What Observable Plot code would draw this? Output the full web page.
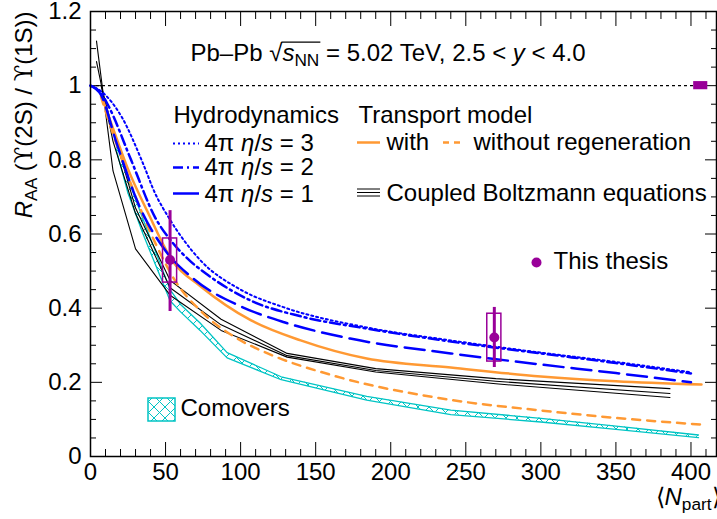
<!DOCTYPE html>
<html><head><meta charset="utf-8">
<script src="https://cdn.jsdelivr.net/npm/d3@7"></script>
<script src="https://cdn.jsdelivr.net/npm/@observablehq/plot@0.6"></script>
<style>
body{margin:0;background:#fff;}
#chart svg{font-family:"Liberation Sans",Arial,Helvetica,sans-serif;display:block;}
</style>
</head><body><div id="chart"></div>
<script>
// ---------------- data ----------------
const thesisN      = [53, 269];
const thesisR      = [0.530, 0.321];
const thesisStatLo = [0.391, 0.240];
const thesisStatHi = [0.663, 0.402];
const thesisSystLo = [0.469, 0.256];
const thesisSystHi = [0.588, 0.385];
const globalN = 406.5;
const globalUnc = 0.011;

const hydro3N = [0, 7, 21, 35, 43, 52, 73, 100, 129, 184, 240, 300, 350, 400];
const hydro3R = [1, 0.985, 0.914, 0.79, 0.71, 0.645, 0.53, 0.45, 0.402, 0.348, 0.313, 0.28, 0.255, 0.227];
const hydro2N = [0, 7, 12, 27, 43, 55, 67, 78, 107, 140, 184, 240, 300, 350, 400];
const hydro2R = [1, 0.98, 0.945, 0.80, 0.645, 0.575, 0.525, 0.49, 0.42, 0.378, 0.345, 0.31, 0.278, 0.252, 0.224];
const hydro1N = [0, 7, 17, 32, 49, 69, 100, 129, 173, 240, 300, 350, 400];
const hydro1R = [1, 0.975, 0.85, 0.68, 0.56, 0.478, 0.405, 0.362, 0.318, 0.278, 0.248, 0.225, 0.2];

const transWithN = [7, 15, 25, 38, 55, 73, 107, 140, 184, 240, 300, 350, 407];
const transWithR = [0.975, 0.885, 0.775, 0.66, 0.525, 0.46, 0.367, 0.313, 0.264, 0.24, 0.216, 0.203, 0.194];
const transWithoutN = [7, 15, 22, 33, 45, 57, 73, 100, 118, 162, 233, 300, 350, 407];
const transWithoutR = [0.97, 0.87, 0.79, 0.67, 0.56, 0.47, 0.394, 0.313, 0.278, 0.218, 0.157, 0.124, 0.104, 0.086];

const boltzN  = [4, 15, 30, 53, 87, 131, 190, 270, 386];
const boltzR1 = [1.12, 0.77, 0.56, 0.435, 0.34, 0.268, 0.228, 0.196, 0.159];
const boltzR2 = [1.065, 0.85, 0.655, 0.455, 0.355, 0.272, 0.232, 0.203, 0.17];
const boltzN3 = [7, 15, 30, 53, 87, 131, 190, 270, 386];
const boltzR3 = [1.0, 0.88, 0.67, 0.475, 0.37, 0.278, 0.237, 0.21, 0.183];

const comoversN  = [17, 25, 35, 45, 53, 60, 73, 91, 127, 184, 240, 300, 350, 405];
const comoversHi = [0.86, 0.75, 0.64, 0.535, 0.45, 0.41, 0.36, 0.28, 0.215, 0.162, 0.125, 0.103, 0.082, 0.058];
const comoversLo = [0.83, 0.71, 0.60, 0.50, 0.42, 0.39, 0.34, 0.266, 0.207, 0.152, 0.113, 0.093, 0.073, 0.051];

const xMajorTicks = [0, 50, 100, 150, 200, 250, 300, 350, 400];
const yMajorTicks = [0, 0.2, 0.4, 0.6, 0.8, 1, 1.2];

const titleText = "Pb–Pb √<ov><i>s</i><sub>NN</sub></ov> = 5.02 TeV, 2.5 < <i>y</i> < 4.0";
const yTitle = "<i>R</i><sub>AA</sub> (<g>ϒ</g>(2S) / <g>ϒ</g>(1S))";
const xTitle = "⟨<i>N</i><sub>part</sub>⟩";
const hydroLabels = ["Hydrodynamics", "4π <i>η</i>/<i>s</i> = 3", "4π <i>η</i>/<i>s</i> = 2", "4π <i>η</i>/<i>s</i> = 1"];
const transportLabels = ["Transport model", "with", "without regeneration", "Coupled Boltzmann equations"];
const thesisLabel = "This thesis";
const comoversLabel = "Comovers";

// ---------------- layout / style ----------------
const W = 717, H = 519, mL = 90, mR = 1, mT = 11, mB = 63;
const xDomain = [0, 417], yDomain = [0, 1.2];
const toN = px => xDomain[0] + (px - mL) / (W - mL - mR) * (xDomain[1] - xDomain[0]);
const toR = py => yDomain[1] - (py - mT) / (H - mT - mB) * (yDomain[1] - yDomain[0]);
const FS = 24;
const BLUE = "#0000ff", ORANGE = "#ff9933", CYAN = "#00c4c4", PURPLE = "#990099";
const boxHalf = 4.7;

const xMinorTicks = d3.range(0, 411, 10).filter(v => v % 50 !== 0);
const yMinorTicks = d3.range(0, 25).map(i => +(i * 0.05).toFixed(2)).filter(v => Math.round(v * 100) % 20 !== 0);

const zipRows = (xs, ys) => xs.map((n, i) => ({n, r: ys[i]}));
const thesisRows = thesisN.map((n, i) => ({n, r: thesisR[i], sLo: thesisStatLo[i], sHi: thesisStatHi[i], yLo: thesisSystLo[i], yHi: thesisSystHi[i]}));
const comoversRows = comoversN.map((n, i) => ({n, hi: comoversHi[i], lo: comoversLo[i]}));

const pxText = (txt, px, py, extra = {}) => Plot.text([txt], {
  text: d => d, frameAnchor: "top-left", dx: px - mL, dy: py - mT,
  textAnchor: "start", lineAnchor: "middle", fontSize: FS, fill: "black", ...extra
});
const sample = (py, px1, px2, opts) => Plot.ruleY([toR(py)], {x1: toN(px1), x2: toN(px2), ...opts});

const fmt = d3.format("~g");
const smooth = "monotone-x";

const plot = Plot.plot({
  width: W, height: H,
  marginLeft: mL, marginRight: mR, marginTop: mT, marginBottom: mB,
  x: {domain: xDomain, label: null},
  y: {domain: yDomain, label: null},
  style: {fontFamily: '"Liberation Sans",Arial,sans-serif', fontSize: FS + "px", background: "white", color: "black", overflow: "visible"},
  marks: [
    // axes (ROOT style: inward ticks on all four sides)
    Plot.axisY({anchor: "left", ticks: yMajorTicks, tickSize: -12, tickPadding: 21, tickFormat: fmt, fontSize: FS, label: null}),
    Plot.axisY({anchor: "left", ticks: yMinorTicks, tickSize: -6, tickFormat: () => "", label: null}),
    Plot.axisY({anchor: "right", ticks: yMajorTicks, tickSize: -12, tickFormat: () => "", label: null}),
    Plot.axisY({anchor: "right", ticks: yMinorTicks, tickSize: -6, tickFormat: () => "", label: null}),
    Plot.axisX({anchor: "bottom", ticks: xMajorTicks, tickSize: -14, tickPadding: 20, tickFormat: fmt, fontSize: FS, label: null}),
    Plot.axisX({anchor: "bottom", ticks: xMinorTicks, tickSize: -7, tickFormat: () => "", label: null}),
    Plot.axisX({anchor: "top", ticks: xMajorTicks, tickSize: -14, tickFormat: () => "", label: null}),
    Plot.axisX({anchor: "top", ticks: xMinorTicks, tickSize: -7, tickFormat: () => "", label: null}),

    // reference line at 1
    Plot.ruleY([1], {x1: xDomain[0], x2: globalN - boxHalf, stroke: "black", strokeWidth: 1.2, strokeDasharray: "3,3"}),

    // comovers band
    Plot.areaY(comoversRows, {x: "n", y1: "lo", y2: "hi", fill: "url(#hatchC)"}),
    Plot.line(comoversRows, {x: "n", y: "hi", stroke: CYAN, strokeWidth: 1.3}),
    Plot.line(comoversRows, {x: "n", y: "lo", stroke: CYAN, strokeWidth: 1.3}),

    // coupled Boltzmann
    Plot.line(zipRows(boltzN, boltzR1), {x: "n", y: "r", stroke: "black", strokeWidth: 1.1}),
    Plot.line(zipRows(boltzN, boltzR2), {x: "n", y: "r", stroke: "black", strokeWidth: 1.1}),
    Plot.line(zipRows(boltzN3, boltzR3), {x: "n", y: "r", stroke: "black", strokeWidth: 1.1}),

    // transport
    Plot.line(zipRows(transWithoutN, transWithoutR), {x: "n", y: "r", curve: smooth, stroke: ORANGE, strokeWidth: 2.5, strokeDasharray: "8,7"}),
    Plot.line(zipRows(transWithN, transWithR), {x: "n", y: "r", curve: smooth, stroke: ORANGE, strokeWidth: 2.5}),

    // hydro
    Plot.line(zipRows(hydro3N, hydro3R), {x: "n", y: "r", curve: smooth, stroke: BLUE, strokeWidth: 2, strokeDasharray: "2,3"}),
    Plot.line(zipRows(hydro2N, hydro2R), {x: "n", y: "r", curve: smooth, stroke: BLUE, strokeWidth: 2.5, strokeDasharray: "10,4,2,4"}),
    Plot.line(zipRows(hydro1N, hydro1R), {x: "n", y: "r", curve: smooth, stroke: BLUE, strokeWidth: 2.5, strokeDasharray: "20,8"}),

    // this thesis
    Plot.rect(thesisRows, {x1: d => d.n - boxHalf, x2: d => d.n + boxHalf, y1: "yLo", y2: "yHi", fill: "none", stroke: PURPLE, strokeWidth: 1.5}),
    Plot.ruleX(thesisRows, {x: "n", y1: "sLo", y2: "sHi", stroke: PURPLE, strokeWidth: 3}),
    Plot.dot(thesisRows, {x: "n", y: "r", r: 5, fill: PURPLE, stroke: "none"}),
    Plot.rect([0], {x1: globalN - boxHalf, x2: globalN + boxHalf, y1: 1 - globalUnc, y2: 1 + globalUnc, fill: PURPLE}),

    // frame
    Plot.frame({stroke: "black", strokeWidth: 1.5}),

    // legend: hydro
    pxText(hydroLabels[0], 173, 115),
    sample(143, 173, 199, {stroke: BLUE, strokeWidth: 2, strokeDasharray: "2,3"}),
    pxText(hydroLabels[1], 204, 143),
    sample(167, 173, 199, {stroke: BLUE, strokeWidth: 2.5, strokeDasharray: "10,4,2,4"}),
    pxText(hydroLabels[2], 204, 167),
    sample(193, 173, 199, {stroke: BLUE, strokeWidth: 2.5}),
    pxText(hydroLabels[3], 204, 194),
    // legend: transport
    pxText(transportLabels[0], 358, 115),
    sample(142, 357, 380, {stroke: ORANGE, strokeWidth: 2.5}),
    pxText(transportLabels[1], 386, 142),
    sample(142, 443, 464, {stroke: ORANGE, strokeWidth: 2.5, strokeDasharray: "6,5"}),
    pxText(transportLabels[2], 473, 142),
    sample(188.5, 357, 380, {stroke: "black", strokeWidth: 1}),
    sample(192, 357, 380, {stroke: "black", strokeWidth: 1}),
    sample(195.5, 357, 380, {stroke: "black", strokeWidth: 1}),
    pxText(transportLabels[3], 386, 193),
    // legend: this thesis
    Plot.dot([0], {x: toN(536), y: toR(262), r: 5, fill: PURPLE, stroke: "none"}),
    pxText(thesisLabel, 553, 261),
    // legend: comovers
    Plot.rect([0], {x1: toN(148), x2: toN(175), y1: toR(421), y2: toR(398), fill: "url(#hatchC)", stroke: CYAN, strokeWidth: 1.5}),
    pxText(comoversLabel, 180, 408),

    // title and axis titles
    pxText(titleText, 190, 53),
    pxText(xTitle, 655, 497),
    pxText(yTitle, 24, 11, {rotate: -90, textAnchor: "end"})
  ]
});

document.getElementById("chart").appendChild(plot);

// hatch pattern
const NS = "http://www.w3.org/2000/svg";
const defs = document.createElementNS(NS, "defs");
defs.innerHTML = `<pattern id="hatchC" patternUnits="userSpaceOnUse" width="11" height="11">
  <path d="M0,0L11,11M11,0L0,11" stroke="${CYAN}" stroke-width="1" fill="none"/></pattern>`;
plot.insertBefore(defs, plot.firstChild);

// rich text: italic / subscript / overline / serif greek
function richify(svg) {
  for (const t of svg.querySelectorAll("text")) {
    const s = t.textContent;
    if (!/<\/?(i|sub|ov|g)>/.test(s)) continue;
    const fs = parseFloat(getComputedStyle(t).fontSize) || FS;
    while (t.firstChild) t.removeChild(t.firstChild);
    const re = /<(\/?)(i|sub|ov|g)>/g;
    const st = {i: 0, sub: 0, ov: 0, g: 0};
    let last = 0, shift = 0, m;
    const emit = str => {
      if (!str) return;
      const ts = document.createElementNS(NS, "tspan");
      const target = st.sub ? 0.22 * fs : 0;
      if (target !== shift) { ts.setAttribute("dy", target - shift); shift = target; }
      if (st.i) ts.setAttribute("font-style", "italic");
      if (st.sub) ts.setAttribute("font-size", 0.72 * fs);
      if (st.g) ts.setAttribute("font-family", '"DejaVu Serif","Liberation Serif",serif');
      if (st.ov) ts.setAttribute("data-ov", "1");
      ts.textContent = str;
      t.appendChild(ts);
    };
    while ((m = re.exec(s))) { emit(s.slice(last, m.index)); st[m[2]] = m[1] ? 0 : 1; last = re.lastIndex; }
    emit(s.slice(last));
    const ov = t.querySelectorAll("tspan[data-ov]");
    if (ov.length) {
      const sr = svg.getBoundingClientRect();
      let x1 = Infinity, x2 = -Infinity, y = Infinity;
      ov.forEach(el => { const r = el.getBoundingClientRect(); x1 = Math.min(x1, r.left); x2 = Math.max(x2, r.right); y = Math.min(y, r.top); });
      const line = document.createElementNS(NS, "line");
      line.setAttribute("x1", x1 - sr.left - 1); line.setAttribute("x2", x2 - sr.left + 1);
      line.setAttribute("y1", y - sr.top + 3); line.setAttribute("y2", y - sr.top + 3);
      line.setAttribute("stroke", "black"); line.setAttribute("stroke-width", 1.3);
      svg.appendChild(line);
    }
  }
}
richify(plot);
</script>
</body></html>
